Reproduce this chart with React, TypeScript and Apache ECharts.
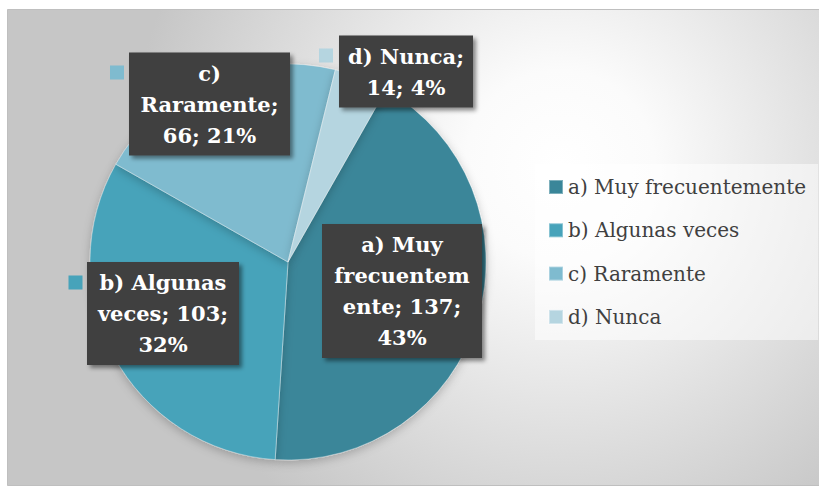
import React, { useEffect, useRef } from "react";
import * as echarts from "echarts";

const CATEGORIES = ["a) Muy frecuentemente", "b) Algunas veces", "c) Raramente", "d) Nunca"];
const VALUES = [137, 103, 66, 14];
const COLORS = ["#3A8699", "#47A3BA", "#7FBBCF", "#B5D5E0"];

// label box layout (centres) and content widths
const LABEL_POS: [number, number][] = [
  [402, 291],
  [163, 313.5],
  [209.5, 104],
  [406, 71.5],
];
const LABEL_WIDTH = [148, 140, 149, 122];
const MARKER_POS: [number, number][] = [
  [310, 243],
  [75.5, 282.5],
  [117, 72.5],
  [326, 55.5],
];

const LABEL_FONT = "bold 21px 'DejaVu Serif'";

function wrapText(text: string, maxWidth: number): string {
  const canvas = document.createElement("canvas");
  const ctx = canvas.getContext("2d")!;
  ctx.font = LABEL_FONT;
  const w = (s: string) => ctx.measureText(s).width;
  const words = text.split(" ");
  const lines: string[] = [];
  let line = "";
  for (let word of words) {
    const candidate = line ? line + " " + word : word;
    if (w(candidate) <= maxWidth) {
      line = candidate;
      continue;
    }
    if (line) {
      lines.push(line);
      line = "";
    }
    // break an over-long word character-wise
    while (w(word) > maxWidth) {
      let k = word.length;
      while (k > 1 && w(word.slice(0, k)) > maxWidth) k--;
      lines.push(word.slice(0, k));
      word = word.slice(k);
    }
    line = word;
  }
  if (line) lines.push(line);
  return lines.join("\n");
}

export default function App() {
  const ref = useRef<HTMLDivElement>(null);
  useEffect(() => {
    document.body.style.margin = "0";
    if (!ref.current) return;
    const chart = echarts.init(ref.current, undefined, { renderer: "svg" });
    const center = [288, 262];
    const radius = 198;
    const startAngle = 60.4;

    const mainData = CATEGORIES.map((name, i) => ({
      name,
      value: VALUES[i],
      itemStyle: { color: COLORS[i] },
      label: { width: LABEL_WIDTH[i] },
    }));
    const markerData = CATEGORIES.map((name, i) => ({
      name,
      value: VALUES[i],
      label: { backgroundColor: COLORS[i] },
    }));

    chart.setOption({
      animation: false,
      graphic: [
        {
          type: "rect",
          z: -10,
          silent: true,
          shape: { x: 7.5, y: 9.5, width: 812, height: 476 },
          style: {
            fill: {
              type: "radial",
              x: 560,
              y: 165,
              r: 430,
              global: true,
              colorStops: [
                { offset: 0, color: "#ffffff" },
                { offset: 0.22, color: "#fbfbfb" },
                { offset: 1, color: "#c6c6c6" },
              ],
            },
            stroke: "#bfbfbf",
            lineWidth: 1,
          },
        },
      ],
      legend: {
        orient: "vertical",
        left: 535,
        top: 164,
        padding: [11, 12, 11, 13],
        backgroundColor: "rgba(255,255,255,0.5)",
        itemWidth: 14,
        itemHeight: 14,
        itemGap: 19.3,
        icon: "rect",
        selectedMode: false,
        textStyle: {
          fontFamily: "DejaVu Serif",
          fontSize: 20,
          lineHeight: 24,
          color: "#404040",
        },
        data: CATEGORIES.map((name, i) => ({ name, itemStyle: { color: COLORS[i] } })),
      },
      series: [
        {
          type: "pie",
          center,
          radius,
          startAngle,
          clockwise: true,
          silent: true,
          itemStyle: {
            borderColor: "rgba(255,255,255,0.35)",
            borderWidth: 1,
            shadowBlur: 10,
            shadowColor: "rgba(0,0,0,0.22)",
            shadowOffsetY: 3,
          },
          labelLine: { show: false },
          label: {
            show: true,
            position: "inside",
            formatter: (p: any) =>
              wrapText(`${p.name}; ${p.value}; ${Math.round(p.percent)}%`, LABEL_WIDTH[p.dataIndex]),
            color: "#ffffff",
            fontFamily: "DejaVu Serif",
            fontWeight: "bold",
            fontSize: 21,
            lineHeight: 31,
            align: "center",
            backgroundColor: "#3f3f3f",
            padding: [5, 6],
            shadowBlur: 4,
            shadowOffsetX: 3,
            shadowOffsetY: 3,
            shadowColor: "rgba(0,0,0,0.45)",
          },
          labelLayout: (p: any) => ({
            x: LABEL_POS[p.dataIndex][0],
            y: LABEL_POS[p.dataIndex][1],
            align: "center",
            verticalAlign: "middle",
          }),
          data: mainData,
          z: 2,
        },
        {
          type: "pie",
          center,
          radius,
          startAngle,
          clockwise: true,
          silent: true,
          legendHoverLink: false,
          itemStyle: { color: "rgba(0,0,0,0)", borderWidth: 0 },
          labelLine: { show: false },
          label: {
            show: true,
            position: "inside",
            formatter: " ",
            fontSize: 1,
            width: 14,
            height: 14,
            padding: 0,
          },
          labelLayout: (p: any) => ({
            x: MARKER_POS[p.dataIndex][0],
            y: MARKER_POS[p.dataIndex][1],
            align: "center",
            verticalAlign: "middle",
          }),
          data: markerData,
          z: 1,
        },
      ],
    });
    return () => chart.dispose();
  }, []);
  return <div ref={ref} style={{ width: 819, height: 490 }} />;
}
